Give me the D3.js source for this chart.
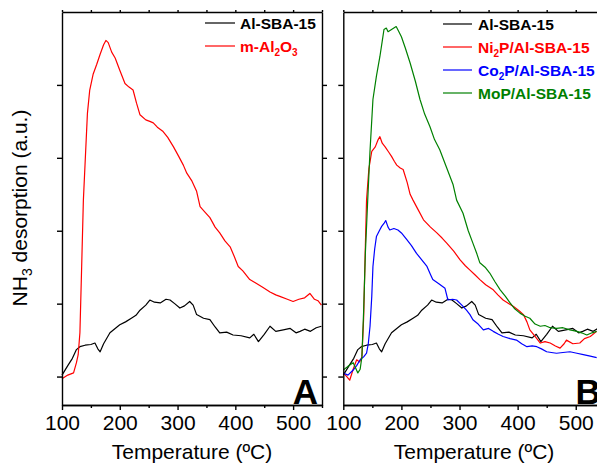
<!DOCTYPE html>
<html>
<head>
<meta charset="utf-8">
<script src="https://cdn.jsdelivr.net/npm/d3@7"></script>
<style>
    body { margin: 0; background: #fff; }
    text { font-family: "Liberation Sans", Arial, sans-serif; }
</style>
</head>
<body>
<div id="chart-area"></div>
<script>
// TPD curves, temperature (C) vs NH3 signal (a.u.)

let tempTicks = [100, 200, 300, 400, 500];
let tempMinor = [150, 250, 350, 450, 550];
let signalTicks = [0, 1, 2, 3, 4];

let alSBA = [[100,0.02],[110,0.15],[118,0.25],[125,0.37],[131,0.41],[140,0.43],[150,0.44],[157,0.46],[162,0.38],[166,0.34],
    [172,0.45],[183,0.60],[192,0.66],[200,0.71],[210,0.75],[220,0.80],[228,0.84],[235,0.91],[245,0.98],[252,1.05],
    [260,1.02],[270,1.01],[280,1.06],[287,1.05],[295,1.00],[304,0.94],[312,0.97],[321,1.03],[327,0.98],[333,0.85],
    [345,0.80],[356,0.78],[365,0.68],[373,0.60],[385,0.61],[396,0.57],[410,0.56],[425,0.53],[432,0.58],[440,0.48],
    [450,0.58],[460,0.69],[470,0.62],[483,0.64],[495,0.66],[505,0.60],[512,0.62],[520,0.65],[530,0.62],[540,0.67],[549,0.69]];

let mAl2O3 = [[100,-0.03],[110,0.02],[120,0.05],[125,0.19],[128,0.3],[131,0.6],[134,1.5],[137,2.42],[141,3.1],[144,3.61],
    [148,3.93],[154,4.15],[160,4.28],[166,4.42],[172,4.55],[176,4.61],[180,4.58],[186,4.45],[192,4.37],[200,4.2],
    [209,4.02],[216,3.97],[223,3.93],[229,3.75],[235,3.59],[245,3.52],[252,3.5],[258,3.48],[265,3.42],[275,3.36],
    [283,3.28],[293,3.15],[302,3.02],[310,2.9],[316,2.79],[325,2.68],[333,2.54],[339,2.33],[347,2.26],[356,2.18],
    [365,2.05],[373,1.97],[382,1.86],[391,1.78],[398,1.65],[405,1.51],[413,1.45],[425,1.33],[436,1.28],[448,1.22],
    [460,1.16],[470,1.12],[477,1.10],[490,1.06],[500,1.03],[510,1.06],[520,1.08],[529,1.14],[537,1.06],[543,1.04],[549,0.98]];

let ni2P = [[100,0.05],[106,0.0],[111,-0.05],[117,0.1],[123,0.23],[128,0.2],[132,0.27],[135,0.8],[138,1.8],[140,2.42],
    [144,2.85],[149,3.09],[155,3.15],[160,3.25],[163,3.29],[167,3.2],[172,3.15],[178,3.08],[183,3.02],[188,2.95],
    [192,2.9],[198,2.86],[203,2.84],[210,2.66],[215,2.5],[220,2.42],[228,2.3],[238,2.15],[250,2.05],[261,1.97],
    [270,1.9],[278,1.83],[290,1.72],[301,1.6],[310,1.52],[318,1.46],[326,1.40],[335,1.33],[345,1.26],[358,1.19],
    [366,1.12],[375,1.05],[385,1.0],[393,0.96],[403,0.9],[410,0.85],[416,0.75],[421,0.64],[430,0.55],[439,0.46],
    [447,0.48],[456,0.46],[465,0.42],[473,0.39],[480,0.45],[484,0.50],[495,0.45],[507,0.46],[515,0.52],[525,0.55],[536,0.62]];

let co2P = [[100,0.05],[108,0.02],[117,0.09],[123,0.15],[129,0.23],[135,0.27],[140,0.32],[143,0.45],[146,0.69],[149,1.1],
    [151,1.51],[154,1.75],[157,1.92],[162,2.0],[166,2.06],[170,2.1],[173,2.14],[177,2.05],[180,2.01],[187,2.03],
    [194,2.01],[200,1.97],[209,1.88],[217,1.8],[226,1.69],[235,1.6],[244,1.51],[250,1.4],[254,1.33],[265,1.27],
    [275,1.21],[280,1.05],[288,1.06],[295,1.05],[304,0.98],[312,0.91],[318,0.85],[323,0.78],[332,0.72],[341,0.64],
    [350,0.66],[358,0.62],[367,0.58],[375,0.55],[387,0.52],[398,0.50],[407,0.45],[416,0.41],[425,0.42],[433,0.41],
    [441,0.38],[450,0.34],[458,0.33],[467,0.32],[478,0.33],[490,0.34],[502,0.32],[513,0.30],[525,0.28],[536,0.26]];

let moP = [[100,0.09],[108,0.14],[117,0.19],[121,0.12],[125,0.05],[129,0.1],[132,0.27],[135,0.9],[138,1.7],[142,2.42],
    [146,3.1],[151,3.8],[157,4.12],[163,4.39],[167,4.6],[170,4.76],[174,4.78],[177,4.73],[183,4.76],[187,4.78],
    [191,4.80],[195,4.74],[200,4.66],[207,4.5],[215,4.3],[224,4.05],[232,3.8],[240,3.6],[249,3.43],[257,3.25],
    [266,3.11],[278,2.86],[289,2.63],[295,2.42],[306,2.24],[315,2.0],[323,1.83],[330,1.68],[335,1.56],[344,1.5],
    [352,1.42],[361,1.3],[370,1.19],[379,1.1],[387,1.01],[395,0.93],[404,0.87],[412,0.83],[421,0.80],[430,0.72],
    [439,0.69],[447,0.70],[456,0.67],[467,0.66],[478,0.67],[490,0.64],[502,0.62],[510,0.6],[519,0.57],[528,0.60],[536,0.62]];

// legend names as [text, isSubscript] pieces
let seriesA = [
    {name: [["Al-SBA-15", false]], color: "#000000", data: alSBA},
    {name: [["m-Al", false], ["2", true], ["O", false], ["3", true]], color: "#ff0000", data: mAl2O3}
];
let seriesB = [
    {name: [["Al-SBA-15", false]], color: "#000000", data: alSBA},
    {name: [["Ni", false], ["2", true], ["P/Al-SBA-15", false]], color: "#ff0000", data: ni2P},
    {name: [["Co", false], ["2", true], ["P/Al-SBA-15", false]], color: "#0000ff", data: co2P},
    {name: [["MoP/Al-SBA-15", false]], color: "#008000", data: moP}
];

let width = 597, height = 463;
let plotTop = 12, plotBottom = 405;

let svg = d3.select("#chart-area").append("svg")
    .attr("width", width)
    .attr("height", height);

// y label shared by both panels
let ylab = svg.append("text")
    .attr("transform", "translate(27,208) rotate(-90)")
    .attr("text-anchor", "middle")
    .style("font-size", "21px");
ylab.append("tspan").text("NH");
ylab.append("tspan").text("3").style("font-size", "14px").attr("dy", 5);
ylab.append("tspan").text(" desorption (a.u.)").attr("dy", -5);

drawPanel(62, 322, seriesA, {x1: 205, x2: 235, tx: 240, y0: 23, dy: 23}, "A");
drawPanel(343.3, 604.8, seriesB, {x1: 443, x2: 472, tx: 478, y0: 24, dy: 23}, "B");

function drawPanel(left, right, series, leg, letter) {
    let x = d3.scaleLinear().domain([100, 550]).range([left, right]);
    let y = d3.scaleLinear().domain([-0.39, 5]).range([plotBottom, plotTop]);

    let g = svg.append("g");

    let line = d3.line()
        .x(d => x(d[0]))
        .y(d => y(d[1]));

    series.forEach(s => {
        g.append("path")
            .datum(s.data)
            .attr("fill", "none")
            .attr("stroke", s.color)
            .attr("stroke-width", 1.2)
            .attr("stroke-linejoin", "round")
            .attr("d", line);
    });

    // axes
    let xAxis = d3.axisBottom(x).tickValues(tempTicks).tickSize(5).tickSizeOuter(0).tickPadding(5);
    let xMinor = d3.axisBottom(x).tickValues(tempMinor).tickSize(3).tickSizeOuter(0).tickFormat("");
    let xTop = d3.axisTop(x).tickValues(tempTicks.concat(tempMinor)).tickSize(2).tickSizeOuter(0).tickFormat("");
    let yLeft = d3.axisLeft(y).tickValues(signalTicks).tickSize(5).tickSizeOuter(0).tickFormat("");
    let yRight = d3.axisRight(y).tickValues(signalTicks).tickSize(5).tickSizeOuter(0).tickFormat("");

    let gx = g.append("g").attr("transform", "translate(0," + plotBottom + ")").call(xAxis);
    gx.selectAll("text").style("font-size", "21px").attr("fill", "#000");
    g.append("g").attr("transform", "translate(0," + plotBottom + ")").call(xMinor);
    g.append("g").attr("transform", "translate(0," + plotTop + ")").call(xTop);
    g.append("g").attr("transform", "translate(" + left + ",0)").call(yLeft);
    g.append("g").attr("transform", "translate(" + right + ",0)").call(yRight);

    g.selectAll(".domain, .tick line")
        .attr("stroke", "#000")
        .attr("stroke-width", 1.4);

    g.append("text")
        .attr("x", (left + right) / 2)
        .attr("y", 459)
        .attr("text-anchor", "middle")
        .style("font-size", "21px")
        .text("Temperature (ºC)");

    // legend
    series.forEach((s, i) => {
        let ly = leg.y0 + i * leg.dy;
        g.append("line")
            .attr("x1", leg.x1).attr("x2", leg.x2)
            .attr("y1", ly).attr("y2", ly)
            .attr("stroke", s.color)
            .attr("stroke-width", 1.2);
        let t = g.append("text")
            .attr("x", leg.tx)
            .attr("y", ly + 5.5)
            .attr("fill", s.color)
            .style("font-size", "15.5px")
            .style("font-weight", "bold");
        let shifted = false;
        s.name.forEach(p => {
            let sp = t.append("tspan").text(p[0]);
            if (p[1]) {
                sp.style("font-size", "10px").attr("dy", 4);
                shifted = true;
            } else if (shifted) {
                sp.attr("dy", -4);
                shifted = false;
            }
        });
    });

    g.append("text")
        .attr("x", right - 4)
        .attr("y", plotBottom - 1)
        .attr("text-anchor", "end")
        .style("font-size", "35px")
        .style("font-weight", "bold")
        .text(letter);
}
</script>
</body>
</html>
